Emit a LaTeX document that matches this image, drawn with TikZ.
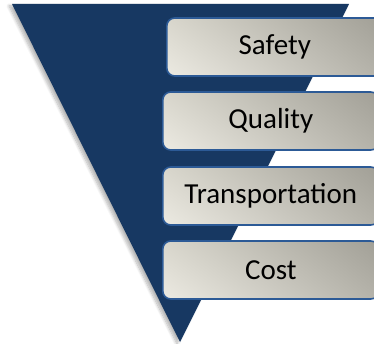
\documentclass[tikz,border=0pt]{standalone}
\usepackage{fontspec}
\setmainfont{Carlito}
\usetikzlibrary{shadings,shadows.blur}

\definecolor{navyedge}{HTML}{173862}
\definecolor{navydark}{HTML}{0A1D3B}
\definecolor{boxline}{HTML}{2C5A96}
\definecolor{boxlightA}{HTML}{ECEAE2}
\definecolor{boxlightB}{HTML}{D8D6CC}
\definecolor{boxdarkA}{HTML}{A19F96}
\definecolor{boxdarkB}{HTML}{B4B2A9}

\begin{document}
\begin{tikzpicture}[x=1pt,y=-1pt,
  tabbox/.style={draw=boxline, line width=1.6pt, rounded corners=8pt,
    minimum width=216pt, minimum height=58pt, inner sep=0pt, anchor=west,
    font=\fontsize{29pt}{34pt}\selectfont,
    lower left=boxlightA, upper left=boxlightB,
    upper right=boxdarkA, lower right=boxdarkB}]
  \useasboundingbox (0,0) rectangle (374,344);
  % funnel
  \shade[left color=navyedge, middle color=navydark, right color=navyedge,
    blur shadow={shadow xshift=-3pt, shadow yshift=-2pt, shadow opacity=30,
      shadow blur steps=8, shadow blur radius=3pt}]
    (12,4) -- (349,4) -- (180,342) -- cycle;
  % tabs
  \foreach \name/\label/\xpos/\ypos in {safety/Safety/166/47, quality/Quality/162/121,
      transport/Transportation/162/196, cost/Cost/162/270} {
    \node[tabbox] (\name) at (\xpos,\ypos) {\label};
  }
\end{tikzpicture}
\end{document}
